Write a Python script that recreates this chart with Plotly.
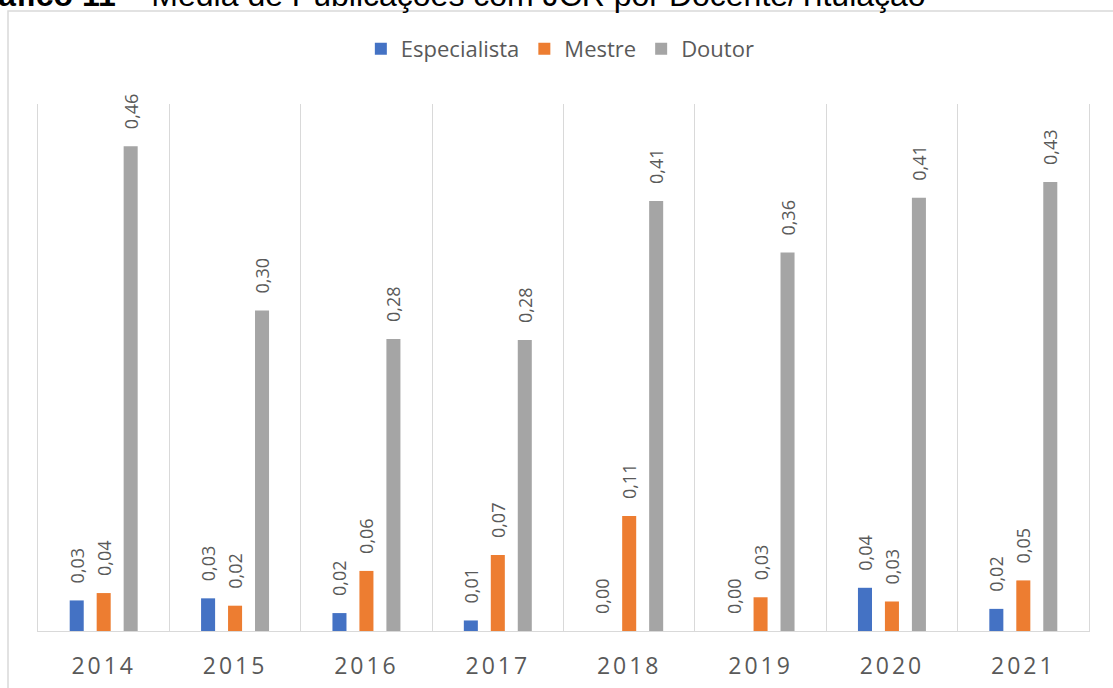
import plotly.graph_objects as go

# ---- data ----
years = ["2014", "2015", "2016", "2017", "2018", "2019", "2020", "2021"]
especialista = [0.029, 0.031, 0.017, 0.010, 0.0, 0.0, 0.041, 0.021]
mestre = [0.036, 0.024, 0.057, 0.072, 0.109, 0.032, 0.028, 0.048]
doutor = [0.460, 0.304, 0.277, 0.276, 0.408, 0.359, 0.411, 0.426]
series_names = ["Especialista", "Mestre", "Doutor"]
series_colors = ["#4472C4", "#ED7D31", "#A5A5A5"]
title_bold = "Gráfico 11 –"
title_rest = "Média de Publicações com JCR por Docente/Titulação"

# ---- geometry helpers (pixel -> paper) ----
W, H = 1113, 688
L, R, T, B = 38, 24, 104, 57
PW, PH = W - L - R, H - T - B


def px(x):
    return (x - L) / PW


def py(y):
    return (H - B - y) / PH


fig = go.Figure()
for name, vals, col in zip(series_names, [especialista, mestre, doutor], series_colors):
    fig.add_trace(go.Bar(
        x=years, y=vals, name=name,
        marker=dict(color=col, line=dict(width=0)),
        texttemplate="\u00a0\u00a0\u00a0%{y:.2f}",
        textposition="outside", textangle=-90,
        textfont=dict(family="Open Sans", size=18, color="#595959"),
        constraintext="none", cliponaxis=False,
    ))

fig.update_layout(
    width=W, height=H,
    margin=dict(l=L, r=R, t=T, b=B, pad=0, autoexpand=False),
    paper_bgcolor="white", plot_bgcolor="white",
    barmode="group", bargap=0.384, bargroupgap=0.48,
    separators=",.",
    showlegend=True,
    legend=dict(orientation="h", x=0.497, xanchor="center", y=py(49), yanchor="middle",
                font=dict(family="Open Sans", size=22, color="#595959"),
                traceorder="normal", itemwidth=30),
    xaxis=dict(type="category", tickson="boundaries", showgrid=True,
               gridcolor="#D9D9D9", gridwidth=1.3,
               showline=True, linecolor="#D9D9D9", linewidth=1.3,
               ticks="", ticklabelstandoff=14, automargin=False,
               tickfont=dict(family="Open Sans", size=23, color="#595959"),
               range=[-0.5, 7.5]),
    yaxis=dict(range=[0, 0.5], showgrid=False, zeroline=False, showticklabels=False,
               ticks="", showline=True, mirror=True, linecolor="#D9D9D9", linewidth=1.3,
               automargin=False),
    shapes=[dict(type="rect", xref="paper", yref="paper",
                 x0=px(8), x1=px(1130), y0=py(700), y1=py(11),
                 line=dict(color="#D9D9D9", width=1.5), layer="below")],
    annotations=[dict(text="<b>" + title_bold + "</b> " + title_rest,
                      xref="paper", yref="paper", x=px(928), y=py(15),
                      xanchor="right", yanchor="bottom", showarrow=False,
                      font=dict(family="Liberation Sans", size=32, color="black"))],
)

post = """
document.body.style.margin='0';
document.querySelectorAll('g.xtick text').forEach(function(t){t.setAttribute('letter-spacing','3px');});
"""
fig.write_html("out.html", post_script=post, config={"displayModeBar": False})
